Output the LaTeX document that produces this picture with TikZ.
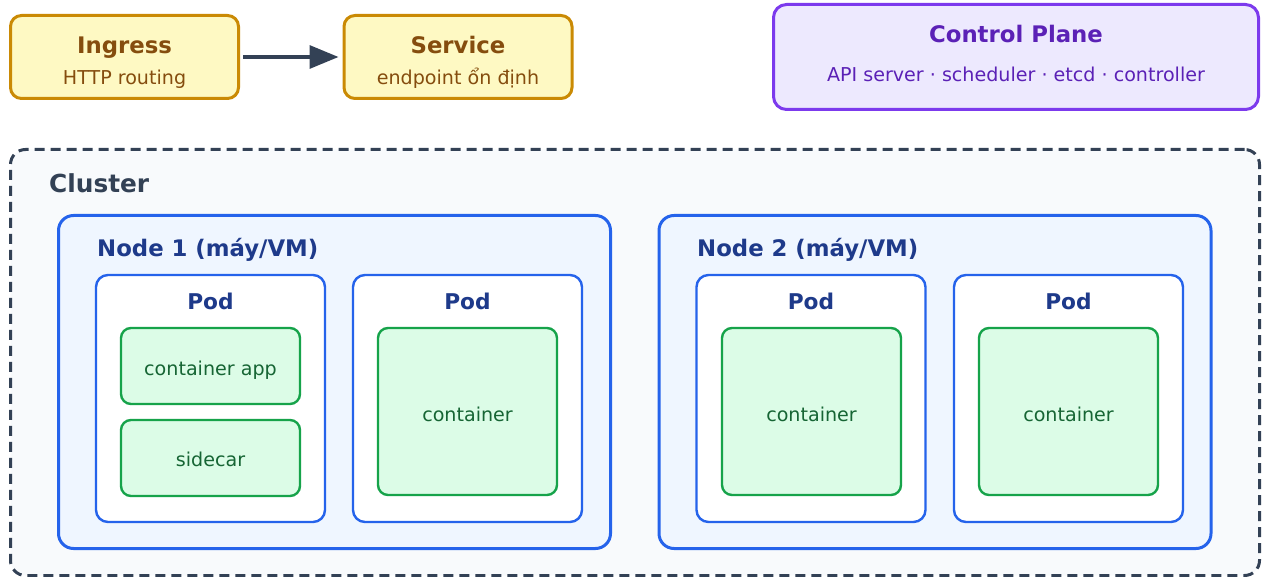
\documentclass[tikz,border=0pt]{standalone}
\usepackage{fontspec}
\setmainfont{DejaVu Sans}
\usetikzlibrary{arrows.meta,calc}

\definecolor{ambline}{HTML}{CA8A04}
\definecolor{ambfill}{HTML}{FEF9C3}
\definecolor{ambtext}{HTML}{854D0E}
\definecolor{vioine}{HTML}{7C3AED}
\definecolor{viofill}{HTML}{EDE9FE}
\definecolor{viotext}{HTML}{5B21B6}
\definecolor{slate}{HTML}{334155}
\definecolor{clusterfill}{HTML}{F8FAFC}
\definecolor{blueline}{HTML}{2563EB}
\definecolor{bluefill}{HTML}{EFF6FF}
\definecolor{bluetext}{HTML}{1E3A8A}
\definecolor{grnline}{HTML}{16A34A}
\definecolor{grnfill}{HTML}{DCFCE7}
\definecolor{grntext}{HTML}{166534}

\newcommand{\fs}[1]{\fontsize{#1}{#1}\selectfont}

\tikzset{
  box/.style={rectangle, rounded corners=#1, inner sep=0pt, outer sep=0pt},
  topbox/.style={box=11pt, draw=ambline, fill=ambfill, line width=3pt,
    minimum width=228pt, minimum height=83pt},
  ctlbox/.style={box=13pt, draw=vioine, fill=viofill, line width=3pt,
    minimum width=485pt, minimum height=105pt},
  clusterbox/.style={box=15pt, draw=slate, fill=clusterfill, line width=3pt,
    dash pattern=on 10pt off 6pt},
  nodebox/.style={box=15pt, draw=blueline, fill=bluefill, line width=3pt,
    minimum width=552pt, minimum height=333pt},
  podbox/.style={box=12pt, draw=blueline, fill=white, line width=2.4pt,
    minimum width=229pt, minimum height=247pt},
  ctrbox/.style={box=10pt, draw=grnline, fill=grnfill, line width=2.4pt,
    minimum width=179pt},
  ctrtext/.style={anchor=base, inner sep=0pt, text=grntext, font=\fs{19.1}},
  title/.style={anchor=base, inner sep=0pt, font=\bfseries\fs{22.8}},
  sub/.style={anchor=base, inner sep=0pt, font=\fs{19.1}},
  flow/.style={draw=slate, line width=3.3pt,
    -{Triangle[length=29pt,width=23pt]}},
}

\begin{document}
\begin{tikzpicture}[x=1pt,y=-1pt]
\useasboundingbox (0,0) rectangle (1262,577);

% request path
\node[topbox] (ing) at (124.5,57) {};
\node[title, text=ambtext] (ingT) at ($(ing.center)+(0,-3)$) {Ingress};
\node[sub, text=ambtext] (ingS) at ($(ing.center)+(0,28)$) {HTTP routing};

\node[topbox] (svc) at (458,57) {};
\node[title, text=ambtext] (svcT) at ($(svc.center)+(0,-3)$) {Service};
\node[sub, text=ambtext] (svcS) at ($(svc.center)+(0,28)$) {endpoint ổn định};

\draw[flow] ($(ing.east)+(4.5,0)$) -- ($(svc.west)+(-5.5,0)$);

% control plane
\node[ctlbox] (cp) at (1016,57) {};
\node[title, text=viotext] (cpT) at ($(cp.center)+(0,-14)$) {Control Plane};
\node[sub, text=viotext] (cpS) at ($(cp.center)+(0,24.5)$) {API server · scheduler · etcd · controller};

% cluster
\node[clusterbox, minimum width=1249pt, minimum height=426pt] (cl) at (635,362.5) {};
\node[anchor=base west, inner sep=0pt, text=slate, font=\bfseries\fs{24.8}] (clT) at (49,193) {Cluster};

% worker nodes
\node[nodebox] (n1) at (334.5,382) {};
\node[anchor=base west, inner sep=0pt, text=bluetext, font=\bfseries\fs{22.8}] (n1T) at (97,257) {Node 1 (máy/VM)};
\node[nodebox] (n2) at (935,382) {};
\node[anchor=base west, inner sep=0pt, text=bluetext, font=\bfseries\fs{22.8}] (n2T) at (697,257) {Node 2 (máy/VM)};

% pods
\foreach \nm/\cx in {p1/210.5, p2/467.5, p3/811, p4/1068.5}{
  \node[podbox] (\nm) at (\cx,398.5) {};
  \node[anchor=base, inner sep=0pt, text=bluetext, font=\bfseries\fs{21.7}] (\nm T) at (\cx,310) {Pod};
}

% containers
\node[ctrbox, minimum height=76pt] (c1a) at (210.5,366) {};
\node[ctrtext] (c1aT) at ($(c1a.center)+(0,9.5)$) {container app};
\node[ctrbox, minimum height=76pt] (c1b) at (210.5,458) {};
\node[ctrtext] (c1bT) at ($(c1b.center)+(0,9)$) {sidecar};
\foreach \nm/\cx in {c2/467.5, c3/811.5, c4/1068.5}{
  \node[ctrbox, minimum height=167pt] (\nm) at (\cx,411.5) {};
  \node[ctrtext] (\nm T) at ($(\nm.center)+(0,9.5)$) {container};
}
\end{tikzpicture}
\end{document}
